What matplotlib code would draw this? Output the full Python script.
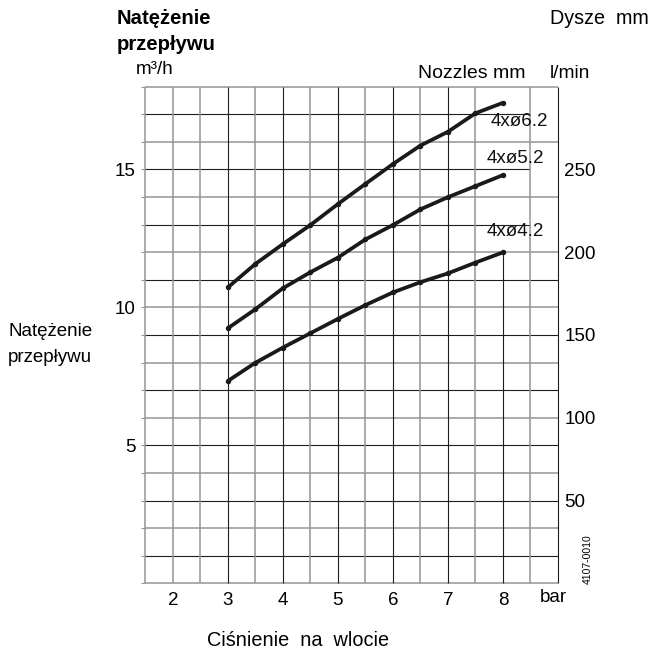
import matplotlib
matplotlib.use("Agg")
import matplotlib.pyplot as plt
import numpy as np

plt.rcParams['font.family'] = ['Liberation Sans', 'DejaVu Sans']

# ---- data ----
pressure_bar = [3.0, 3.5, 4.0, 4.5, 5.0, 5.5, 6.0, 6.5, 7.0, 7.5, 8.0]
flow_62 = [10.72, 11.57, 12.29, 12.98, 13.74, 14.47, 15.19, 15.86, 16.36, 17.03, 17.41]
flow_52 = [9.24, 9.93, 10.69, 11.27, 11.80, 12.46, 12.98, 13.55, 13.99, 14.39, 14.79]
flow_42 = [7.33, 7.99, 8.54, 9.06, 9.58, 10.08, 10.54, 10.91, 11.23, 11.62, 11.99]
series_labels = ["4xø6.2", "4xø5.2", "4xø4.2"]
x_ticks = [2, 3, 4, 5, 6, 7, 8]
y_ticks_major = [5, 10, 15]
lmin_ticks = [50, 100, 150, 200, 250]

W, H = 655, 654
fig = plt.figure(figsize=(W / 100, H / 100), dpi=100)
L, R, T, B = 145.3, 558.0, 86.5, 583.3
ax = fig.add_axes([L / W, 1 - B / H, (R - L) / W, (B - T) / H])
ax.set_xlim(1.5, 9.0)
ax.set_ylim(0, 18)
for s in ax.spines.values():
    s.set_visible(False)

dark = '#1e1e1e'
gray = '#959595'
# grid
for yv in range(0, 19):
    xmax = 8.5 if yv in (13, 15, 17) else 9.0
    col = gray if yv % 2 == 0 else dark
    lw = 1.1 if col == gray else 0.8
    ax.hlines(yv, 1.5, xmax, colors=col, lw=lw, zorder=1, clip_on=False)
for xv in np.arange(1.5, 9.01, 0.5):
    ymax = 12 if abs(xv - 8.0) < 1e-6 else 18
    is_int = abs(xv - round(xv)) < 1e-6 and xv >= 3
    col = dark if is_int else gray
    lw = 0.8 if col == dark else 1.1
    ax.vlines(xv, 0, ymax, colors=col, lw=lw, zorder=1, clip_on=False)

# curves
for ys in (flow_62, flow_52, flow_42):
    ax.plot(pressure_bar, ys, color='#1a1a1a', lw=2.7, marker='o', ms=2.9,
            solid_capstyle='butt', zorder=3)

label_pos = [(7.77, 16.73), (7.71, 15.39), (7.71, 12.75)]
for lab, (lx, ly) in zip(series_labels, label_pos):
    ax.text(lx, ly, lab, fontsize=13.5, ha='left', va='center', color='#111')

# axes ticks
ax.set_xticks(x_ticks)
ax.set_xticklabels([str(v) for v in x_ticks])
ax.tick_params(axis='x', length=0, pad=6.5, labelsize=13.5)
ax.set_yticks(list(range(0, 19)))
ax.set_yticklabels([str(v) if v in y_ticks_major else '' for v in range(0, 19)])
ax.tick_params(axis='y', length=3, direction='out', color=gray, pad=4, labelsize=13.5)

sec = ax.secondary_yaxis('right', functions=(lambda q: q * 1000 / 60, lambda l: l * 60 / 1000))
sec.set_yticks(lmin_ticks)
sec.tick_params(length=0, pad=4.5, labelsize=13.5)
sec.spines['right'].set_visible(False)

# texts
def ftext(px, py, s, **kw):
    fig.text(px / W, 1 - py / H, s, **kw)

ftext(117, 18, "Natężenie", fontsize=14.6, fontweight='bold', ha='left', va='center')
ftext(117, 45, "przepływu", fontsize=14.6, fontweight='bold', ha='left', va='center')
ftext(136, 69, "m³/h", fontsize=13.5, ha='left', va='center')
ftext(550, 18, "Dysze  mm", fontsize=14.2, ha='left', va='center')
ftext(418, 73, "Nozzles mm", fontsize=14.0, ha='left', va='center')
ftext(550, 73, "l/min", fontsize=13.8, ha='left', va='center')
ftext(8, 331, "Natężenie", fontsize=13.5, ha='left', va='center')
ftext(8, 358, "przepływu", fontsize=13.5, ha='left', va='center')
ftext(540, 598, "bar", fontsize=13.5, ha='left', va='center')
ftext(298, 640, "Ciśnienie  na  wlocie", fontsize=14.3, ha='center', va='center')
ftext(587.5, 559, "4107-0010", fontsize=7.5, ha='center', va='center', rotation=90)

fig.savefig("out.png", dpi=100)
